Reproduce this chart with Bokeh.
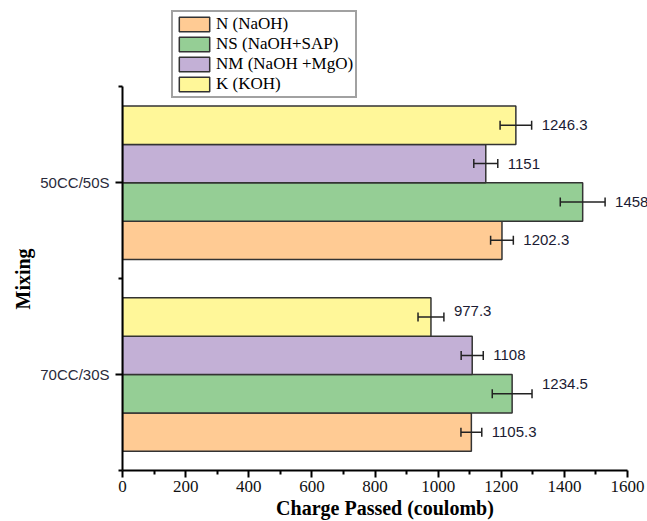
from bokeh.plotting import figure
from bokeh.models import (ColumnDataSource, Range1d, FixedTicker, Whisker, TeeHead,
                          Legend, LegendItem, Title)
from bokeh.core.properties import value
from bokeh.embed import file_html
from bokeh.resources import INLINE

# Mixes on the vertical axis (bottom to top)
categories = ["70CC/30S", "50CC/50S"]

# Activators (legend order, top to bottom)
series = ["N (NaOH)", "NS (NaOH+SAP)", "NM (NaOH +MgO)", "K (KOH)"]

# Charge passed (coulomb) per mix, one list per activator
n_vals = [1105.3, 1202.3]
ns_vals = [1234.5, 1458.0]
nm_vals = [1108.0, 1151.0]
k_vals = [977.3, 1246.3]

# Standard deviations
n_err = [33, 36]
ns_err = [63, 71]
nm_err = [35, 38]
k_err = [41, 50]

x_ticks = [0, 200, 400, 600, 800, 1000, 1200, 1400, 1600]

colors = ["#FFCB94", "#95CE95", "#C3B0D6", "#FFF799"]
offsets = [-0.3, -0.1, 0.1, 0.3]       # bar positions inside a group
label_nudge = [[0, 0], [-10, 0], [0, 0], [-6, 0]]  # small vertical shifts of value labels (px)

values = [n_vals, ns_vals, nm_vals, k_vals]
errors = [n_err, ns_err, nm_err, k_err]

# The frame reaches the top and right edges so that the legend and the value
# labels are not clipped; the axes themselves stop at their bounds.
W, H = 647, 521
left_px, bottom_px = 122, 53
axis_len_x, axis_len_y = 505, 382
frame_w, frame_h = W - left_px, H - bottom_px
x_max = 1600 * frame_w / axis_len_x
y_top = 0.5 + 2.0 * frame_h / axis_len_y

p = figure(width=W, height=H, x_range=Range1d(0, x_max), y_range=Range1d(0.5, y_top),
           output_backend="svg", toolbar_location=None,
           min_border_left=left_px, min_border_right=0, min_border_top=0,
           min_border_bottom=50)
p.outline_line_color = None
p.grid.visible = False
p.background_fill_color = "white"
p.border_fill_color = "white"

legend_items = []
for i, name in enumerate(series):
    ys = [k + 1 + offsets[i] for k in range(len(categories))]
    src = ColumnDataSource(dict(
        y=ys, v=values[i], lo=[v - e for v, e in zip(values[i], errors[i])],
        hi=[v + e for v, e in zip(values[i], errors[i])],
        txt=[f"{v:g}" for v in values[i]], dy=label_nudge[i]))
    r = p.hbar(y="y", left=0, right="v", height=0.2, source=src,
               fill_color=colors[i], line_color="#333333", line_width=1.5)
    legend_items.append(LegendItem(label=name, renderers=[r]))
    w = Whisker(source=src, base="y", lower="lo", upper="hi", dimension="width",
                line_color="#222222", line_width=1.5, level="annotation",
                upper_head=TeeHead(size=9, line_color="#222222", line_width=1.5),
                lower_head=TeeHead(size=9, line_color="#222222", line_width=1.5))
    p.add_layout(w)
    p.text(x="hi", y="y", text="txt", source=src, x_offset=10, y_offset="dy",
           text_baseline="middle", text_align="left", text_font=value("Liberation Sans"),
           text_font_size="15px", text_color="#1b1b33")

# x axis
xa = p.xaxis[0]
xa.bounds = (0, 1600)
xa.ticker = FixedTicker(ticks=x_ticks, minor_ticks=[t + 100 for t in x_ticks[:-1]])
xa.axis_label = "Charge Passed (coulomb)"
xa.axis_label_text_font = "Liberation Serif"
xa.axis_label_text_font_style = "bold"
xa.axis_label_text_font_size = "20px"
xa.axis_label_text_color = "black"
xa.axis_label_standoff = 2
xa.major_label_text_font = "Liberation Serif"
xa.major_label_text_font_size = "17px"
xa.major_label_text_color = "#111111"
xa.major_label_standoff = 3

# y axis
ya = p.yaxis[0]
ya.bounds = (0.5, 2.5)
ya.ticker = FixedTicker(ticks=[1, 2], minor_ticks=[0.5, 1.5, 2.5])
ya.major_label_overrides = {k + 1: c for k, c in enumerate(categories)}
ya.major_label_text_font = "Liberation Sans"
ya.major_label_text_font_size = "15px"
ya.major_label_text_color = "#2a2a3a"
ya.major_label_standoff = 6

# vertical title, centred on the drawn part of the y axis
ytitle = Title(text="Mixing", align="left", offset=161, standoff=8,
               text_font="Liberation Serif", text_font_style="bold",
               text_font_size="20px", text_color="black")
p.add_layout(ytitle, "left")

for ax in (xa, ya):
    ax.axis_line_width = 2
    ax.axis_line_color = "black"
    ax.major_tick_line_width = 2
    ax.minor_tick_line_width = 2
    ax.major_tick_in = 0
    ax.major_tick_out = 7
    ax.minor_tick_in = 0
    ax.minor_tick_out = 4

legend = Legend(items=legend_items, location=(49, 372))
legend.label_text_font = "Liberation Serif"
legend.label_text_font_size = "17px"
legend.label_text_color = "black"
legend.glyph_width = 38
legend.glyph_height = 18
legend.label_height = 18
legend.spacing = 0
legend.padding = 2
legend.margin = 0
legend.label_standoff = 3
legend.border_line_color = "#444444"
legend.border_line_width = 2
legend.background_fill_alpha = 1
p.add_layout(legend)

open("out.html", "w").write(file_html(p, INLINE))
